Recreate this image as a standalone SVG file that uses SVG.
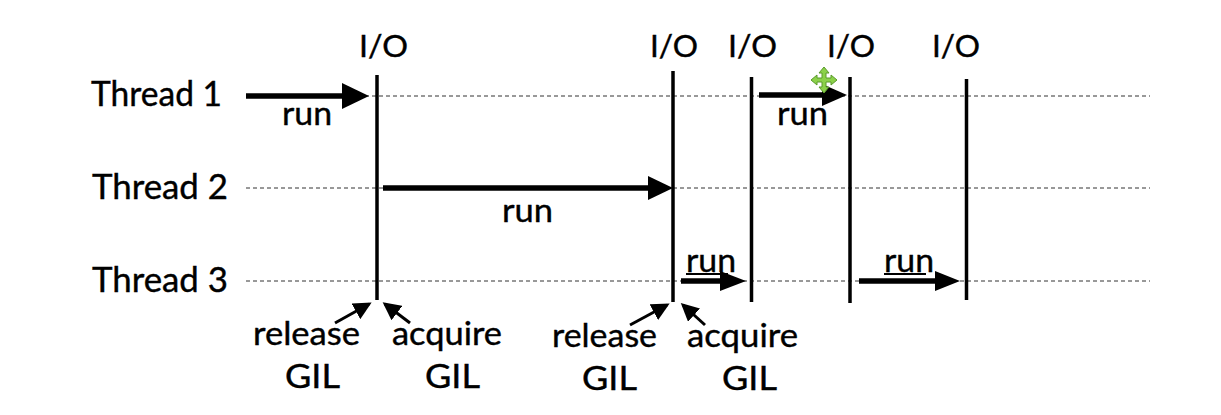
<svg xmlns="http://www.w3.org/2000/svg" width="1221" height="415" viewBox="0 0 1221 415">
<defs>
<style>
.t{font-family:Lato,"Liberation Sans",sans-serif;fill:#000;stroke:#000;stroke-width:0.4}
.lbl{font-size:34px}
.io{font-size:31px}
.run{font-size:33px}
.gil{font-size:32px}
.dash{stroke:#333;stroke-width:1;stroke-dasharray:4 3;fill:none}
.vl{stroke:#000;stroke-width:3.5}
.arr{stroke:#000;stroke-width:5.5;fill:none}
.thin{stroke:#000;stroke-width:3;fill:none}
</style>
<marker id="sh" markerWidth="6" markerHeight="6" refX="5" refY="3" orient="auto" markerUnits="strokeWidth">
<path d="M0,0 L6,3 L0,6 Z" fill="#000"/>
</marker>
</defs>
<rect width="1221" height="415" fill="#fff"/>
<g id="lanes">
<line class="dash" x1="246" y1="96" x2="1150" y2="96"/>
<line class="dash" x1="246" y1="188" x2="1150" y2="188"/>
<line class="dash" x1="246" y1="281" x2="1150" y2="281"/>
</g>
<g id="thread1"><text class="t lbl" x="91" y="106" textLength="131" lengthAdjust="spacingAndGlyphs">Thread 1</text></g>
<g id="thread2"><text class="t lbl" x="92" y="199" textLength="136" lengthAdjust="spacingAndGlyphs">Thread 2</text></g>
<g id="thread3"><text class="t lbl" x="92" y="292" textLength="136" lengthAdjust="spacingAndGlyphs">Thread 3</text></g>
<g id="io1"><text class="t io" x="359" y="57" textLength="49" lengthAdjust="spacingAndGlyphs">I/O</text><line class="vl" x1="377" y1="75" x2="377" y2="300"/></g>
<g id="io2"><text class="t io" x="650" y="57" textLength="48" lengthAdjust="spacingAndGlyphs">I/O</text><line class="vl" x1="673" y1="71" x2="673" y2="302"/></g>
<g id="io3"><text class="t io" x="728" y="57" textLength="49" lengthAdjust="spacingAndGlyphs">I/O</text><line class="vl" x1="751.5" y1="77" x2="751.5" y2="302"/></g>
<g id="io4"><text class="t io" x="827" y="57" textLength="48" lengthAdjust="spacingAndGlyphs">I/O</text><line class="vl" x1="850" y1="77" x2="850" y2="303"/></g>
<g id="io5"><text class="t io" x="932" y="57" textLength="48" lengthAdjust="spacingAndGlyphs">I/O</text><line class="vl" x1="966.5" y1="79" x2="966.5" y2="300"/></g>
<g id="connectors">
<g id="run-arrows">
<line class="arr" x1="246" y1="96" x2="344" y2="96"/><path d="M342,83 L369,96 L342,109 Z"/>
<line class="arr" x1="383" y1="188" x2="650" y2="188"/><path d="M648,176 L673,188 L648,200 Z"/>
<line class="arr" x1="759" y1="95" x2="824" y2="95"/><path d="M822,84 L847,95 L822,106 Z"/>
<line class="arr" x1="681" y1="281" x2="722" y2="281"/><path d="M720,271 L746,281 L720,291 Z"/>
<line class="arr" x1="859" y1="281" x2="937" y2="281"/><path d="M935,271 L960,281 L935,291 Z"/>
</g>
<g id="gil-arrows">
<line class="thin" x1="335" y1="323" x2="369" y2="304" marker-end="url(#sh)"/>
<line class="thin" x1="410" y1="323" x2="385" y2="304" marker-end="url(#sh)"/>
<line class="thin" x1="630" y1="325" x2="667" y2="305" marker-end="url(#sh)"/>
<line class="thin" x1="705" y1="325" x2="683" y2="305" marker-end="url(#sh)"/>
</g>
</g>
<g id="run-labels">
<text class="t run" x="282" y="125" textLength="50" lengthAdjust="spacingAndGlyphs">run</text>
<text class="t run" x="502" y="222" textLength="51" lengthAdjust="spacingAndGlyphs">run</text>
<text class="t run" x="777" y="125" textLength="51" lengthAdjust="spacingAndGlyphs">run</text>
<text class="t run" x="686" y="272" textLength="50" lengthAdjust="spacingAndGlyphs">run</text>
<line x1="686" y1="274" x2="728" y2="274" stroke="#000" stroke-width="2"/>
<text class="t run" x="884" y="272" textLength="50" lengthAdjust="spacingAndGlyphs">run</text>
<line x1="884" y1="274" x2="926" y2="274" stroke="#000" stroke-width="2"/>
</g>
<g id="gil-labels">
<text class="t gil" x="253" y="345" textLength="107" lengthAdjust="spacingAndGlyphs">release</text>
<text class="t gil" x="285" y="388" textLength="55" lengthAdjust="spacingAndGlyphs">GIL</text>
<text class="t gil" x="392" y="345" textLength="110" lengthAdjust="spacingAndGlyphs">acquire</text>
<text class="t gil" x="425" y="388" textLength="55" lengthAdjust="spacingAndGlyphs">GIL</text>
<text class="t gil" x="552" y="347" textLength="105" lengthAdjust="spacingAndGlyphs">release</text>
<text class="t gil" x="582" y="390" textLength="55" lengthAdjust="spacingAndGlyphs">GIL</text>
<text class="t gil" x="687" y="347" textLength="111" lengthAdjust="spacingAndGlyphs">acquire</text>
<text class="t gil" x="722" y="390" textLength="55" lengthAdjust="spacingAndGlyphs">GIL</text>
</g>
<g id="cursor" transform="translate(824,80)">
<path d="M0,-13 L5,-7 L2,-7 L2,-2 L7,-2 L7,-5 L13,0 L7,5 L7,2 L2,2 L2,7 L5,7 L0,13 L-5,7 L-2,7 L-2,2 L-7,2 L-7,5 L-13,0 L-7,-5 L-7,-2 L-2,-2 L-2,-7 L-5,-7 Z" fill="#8bd14a" stroke="#5a9a2a" stroke-width="1"/>
</g>
</svg>
